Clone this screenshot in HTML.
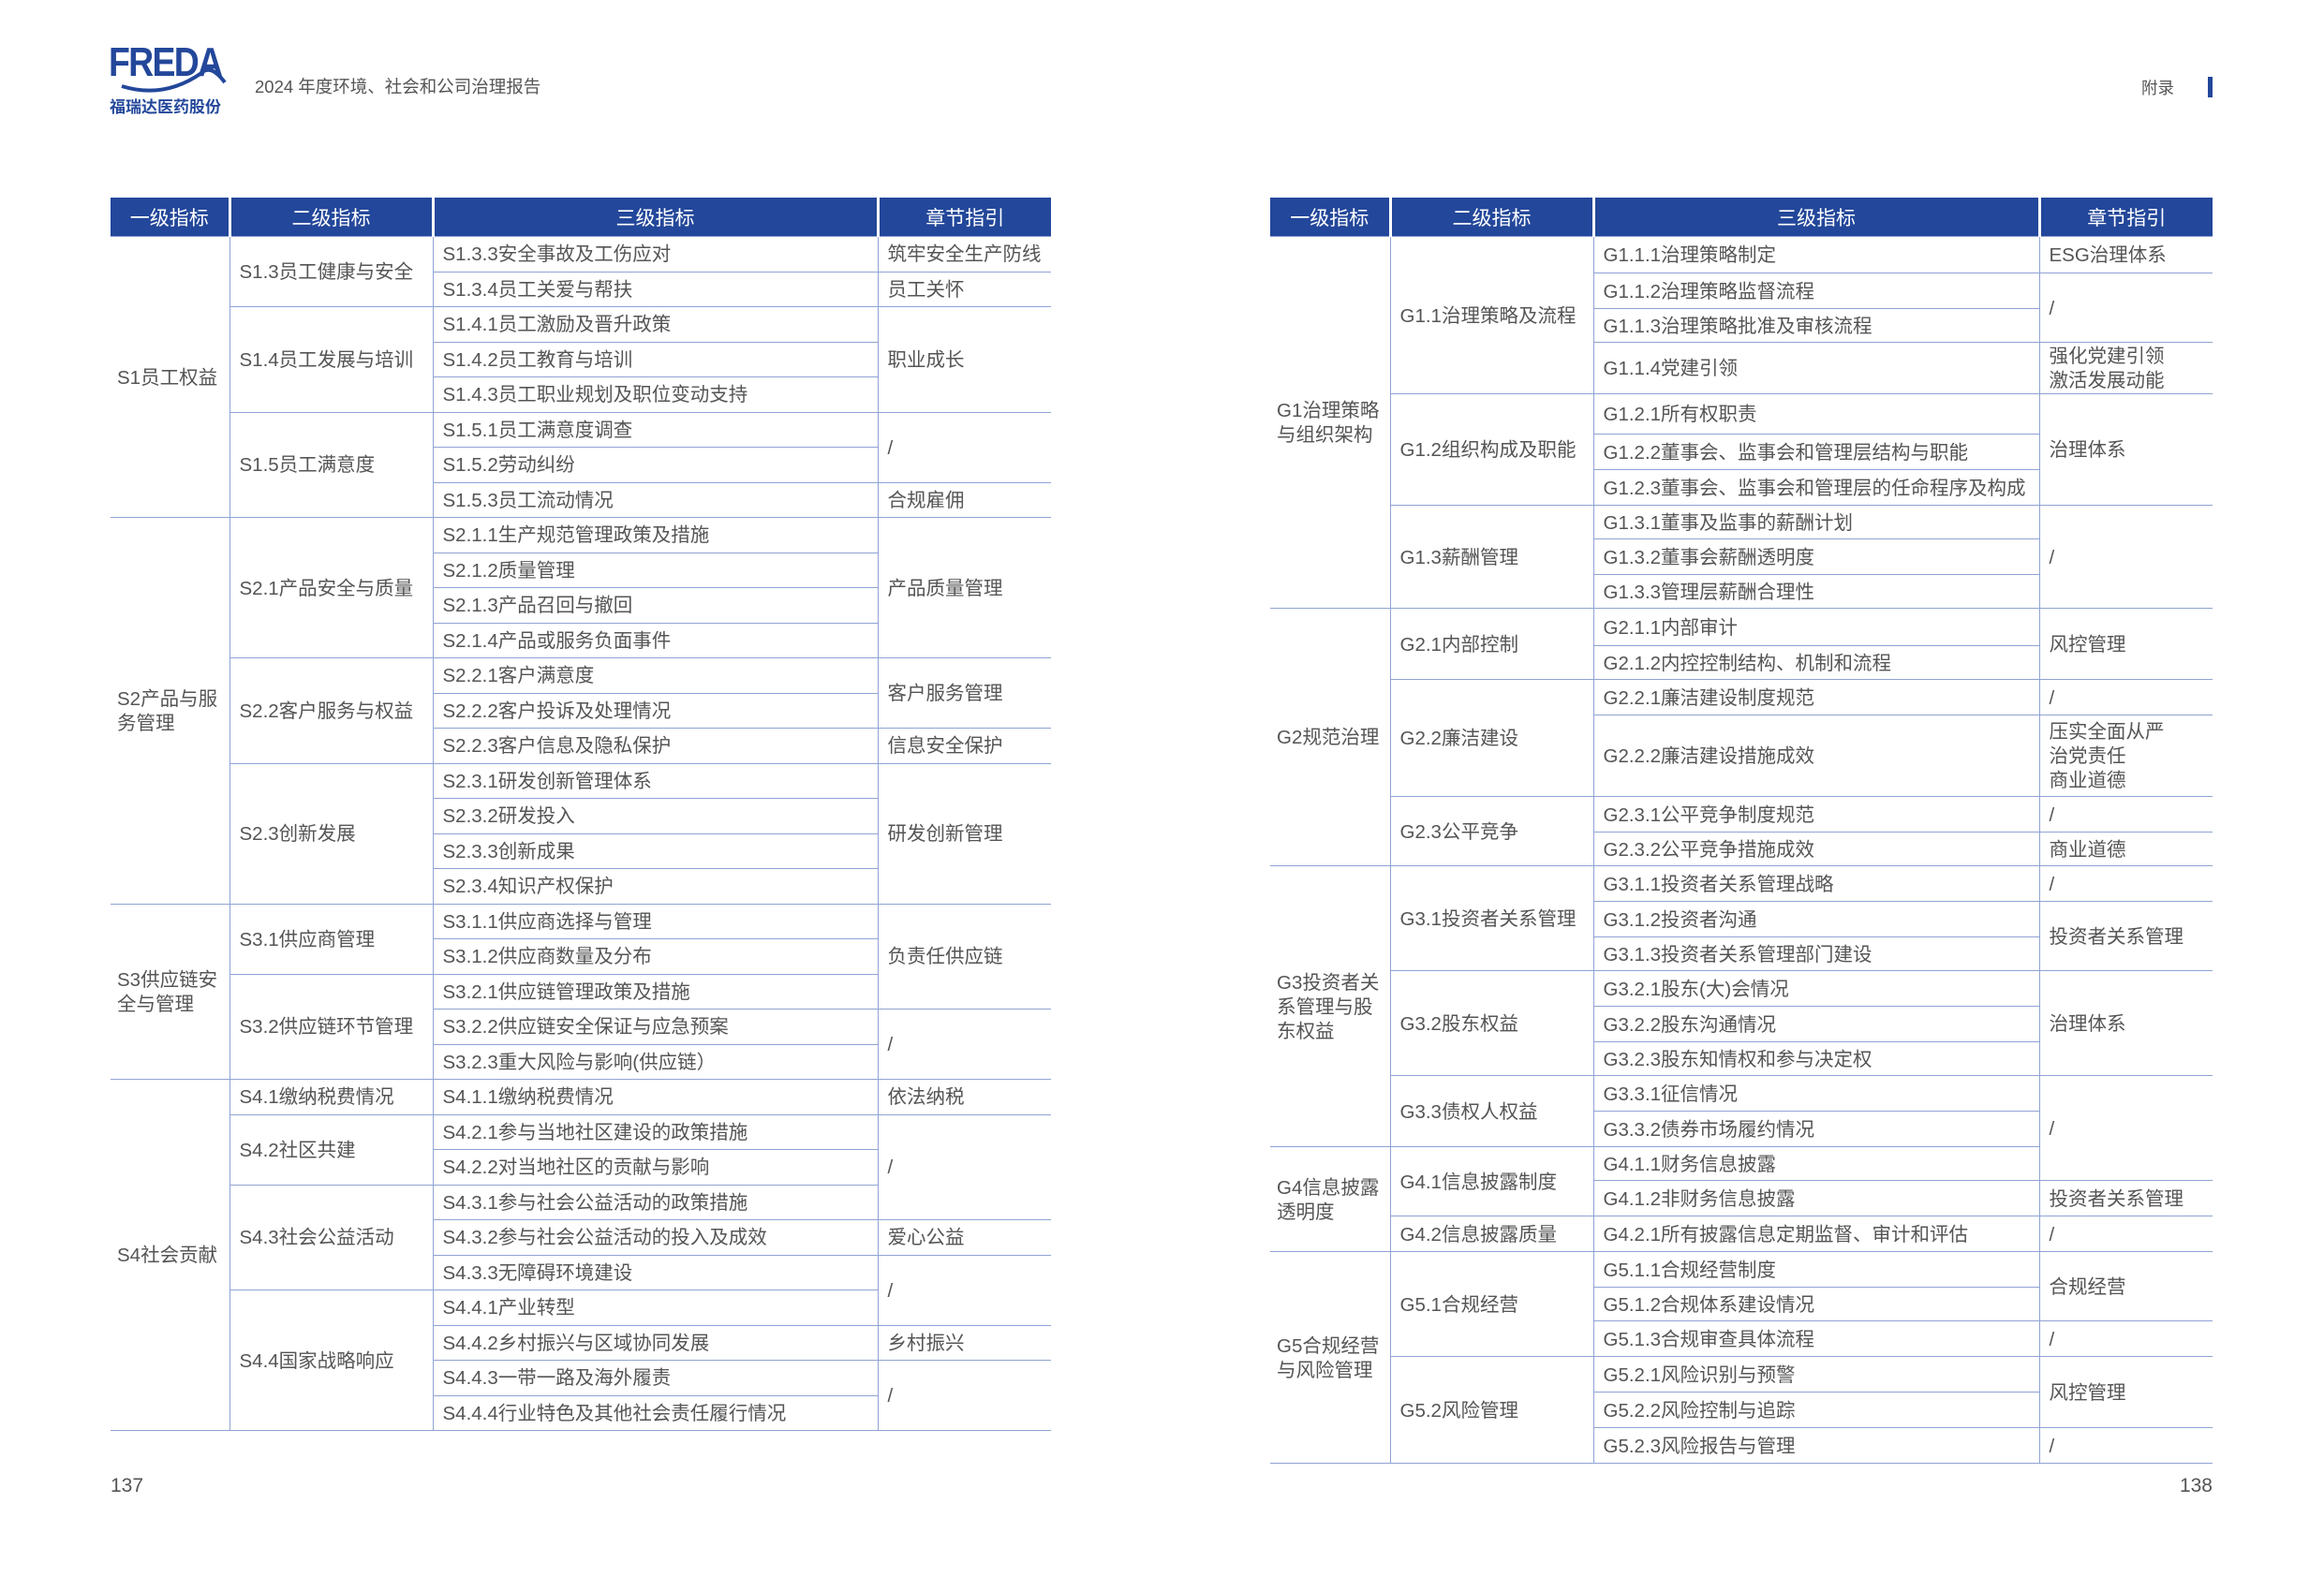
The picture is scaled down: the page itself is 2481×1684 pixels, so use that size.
<!DOCTYPE html>
<html><head><meta charset="utf-8">
<style>
body{margin:0;width:2481px;height:1684px;background:#fff;position:relative;overflow:hidden;font-family:"Liberation Sans","Noto Sans CJK SC",sans-serif;color:#555;}
.abs{position:absolute;}
table{position:absolute;border-collapse:collapse;table-layout:fixed;font-size:20.5px;}
td{border:1px solid #8fa3d3;padding:2px 0 0 10px;vertical-align:middle;white-space:nowrap;line-height:26px;overflow:hidden;}
th{background:#23479a;color:#fff;font-weight:normal;font-size:21px;height:41px;padding:0;border-right:3px solid #fff;}
th:last-child{border-right:none;}
tr td:first-child.c1{border-left:none;padding-left:7px;}
td.l{border-right:none;}
.L tr.r td{height:34.5px;}
</style></head><body>
<div class="abs" style="left:116px;top:42px;color:#23479a;font-size:44px;font-weight:bold;letter-spacing:-2px;transform:scaleX(0.85);transform-origin:left;">FREDA</div>
<svg class="abs" style="left:115px;top:48px" width="130" height="55"><path d="M15 44 Q60 58 100 30 Q110 20 125 40" stroke="#23479a" stroke-width="4" fill="none"/></svg>
<div class="abs" style="left:117px;top:100px;color:#23479a;font-size:17px;font-weight:bold;">福瑞达医药股份</div>
<div class="abs" style="left:272px;top:79px;font-size:18.5px;color:#555;">2024 年度环境、社会和公司治理报告</div>
<div class="abs" style="left:2286px;top:81px;font-size:17.5px;color:#555;">附录</div>
<div class="abs" style="left:2357px;top:82px;width:5px;height:22px;background:#23479a;"></div>
<div class="abs" style="left:118px;top:1575px;font-size:21px;">137</div>
<div class="abs" style="left:2300px;width:62px;text-align:right;top:1575px;font-size:21px;">138</div>

<table class="L" style="left:118px;top:211px;width:1004px;">
<colgroup><col style="width:127px"><col style="width:217px"><col style="width:475px"><col style="width:185px"></colgroup>
<tr><th>一级指标</th><th>二级指标</th><th>三级指标</th><th>章节指引</th></tr>
<tr class="r"><td class="c1" rowspan="8">S1员工权益</td><td rowspan="2">S1.3员工健康与安全</td><td>S1.3.3安全事故及工伤应对</td><td class="l">筑牢安全生产防线</td></tr>
<tr class="r"><td>S1.3.4员工关爱与帮扶</td><td class="l">员工关怀</td></tr>
<tr class="r"><td rowspan="3">S1.4员工发展与培训</td><td>S1.4.1员工激励及晋升政策</td><td class="l" rowspan="3">职业成长</td></tr>
<tr class="r"><td>S1.4.2员工教育与培训</td></tr>
<tr class="r"><td>S1.4.3员工职业规划及职位变动支持</td></tr>
<tr class="r"><td rowspan="3">S1.5员工满意度</td><td>S1.5.1员工满意度调查</td><td class="l" rowspan="2">/</td></tr>
<tr class="r"><td>S1.5.2劳动纠纷</td></tr>
<tr class="r"><td>S1.5.3员工流动情况</td><td class="l">合规雇佣</td></tr>
<tr class="r"><td class="c1" rowspan="11">S2产品与服<br>务管理</td><td rowspan="4">S2.1产品安全与质量</td><td>S2.1.1生产规范管理政策及措施</td><td class="l" rowspan="4">产品质量管理</td></tr>
<tr class="r"><td>S2.1.2质量管理</td></tr>
<tr class="r"><td>S2.1.3产品召回与撤回</td></tr>
<tr class="r"><td>S2.1.4产品或服务负面事件</td></tr>
<tr class="r"><td rowspan="3">S2.2客户服务与权益</td><td>S2.2.1客户满意度</td><td class="l" rowspan="2">客户服务管理</td></tr>
<tr class="r"><td>S2.2.2客户投诉及处理情况</td></tr>
<tr class="r"><td>S2.2.3客户信息及隐私保护</td><td class="l">信息安全保护</td></tr>
<tr class="r"><td rowspan="4">S2.3创新发展</td><td>S2.3.1研发创新管理体系</td><td class="l" rowspan="4">研发创新管理</td></tr>
<tr class="r"><td>S2.3.2研发投入</td></tr>
<tr class="r"><td>S2.3.3创新成果</td></tr>
<tr class="r"><td>S2.3.4知识产权保护</td></tr>
<tr class="r"><td class="c1" rowspan="5">S3供应链安<br>全与管理</td><td rowspan="2">S3.1供应商管理</td><td>S3.1.1供应商选择与管理</td><td class="l" rowspan="3">负责任供应链</td></tr>
<tr class="r"><td>S3.1.2供应商数量及分布</td></tr>
<tr class="r"><td rowspan="3">S3.2供应链环节管理</td><td>S3.2.1供应链管理政策及措施</td></tr>
<tr class="r"><td>S3.2.2供应链安全保证与应急预案</td><td class="l" rowspan="2">/</td></tr>
<tr class="r"><td>S3.2.3重大风险与影响(供应链）</td></tr>
<tr class="r"><td class="c1" rowspan="10">S4社会贡献</td><td>S4.1缴纳税费情况</td><td>S4.1.1缴纳税费情况</td><td class="l">依法纳税</td></tr>
<tr class="r"><td rowspan="2">S4.2社区共建</td><td>S4.2.1参与当地社区建设的政策措施</td><td class="l" rowspan="3">/</td></tr>
<tr class="r"><td>S4.2.2对当地社区的贡献与影响</td></tr>
<tr class="r"><td rowspan="3">S4.3社会公益活动</td><td>S4.3.1参与社会公益活动的政策措施</td></tr>
<tr class="r"><td>S4.3.2参与社会公益活动的投入及成效</td><td class="l">爱心公益</td></tr>
<tr class="r"><td>S4.3.3无障碍环境建设</td><td class="l" rowspan="2">/</td></tr>
<tr class="r"><td rowspan="4">S4.4国家战略响应</td><td>S4.4.1产业转型</td></tr>
<tr class="r"><td>S4.4.2乡村振兴与区域协同发展</td><td class="l">乡村振兴</td></tr>
<tr class="r"><td>S4.4.3一带一路及海外履责</td><td class="l" rowspan="2">/</td></tr>
<tr class="r"><td>S4.4.4行业特色及其他社会责任履行情况</td></tr>
</table>

<table style="left:1356px;top:211px;width:1006px;">
<colgroup><col style="width:128px"><col style="width:217px"><col style="width:476px"><col style="width:185px"></colgroup>
<tr><th>一级指标</th><th>二级指标</th><th>三级指标</th><th>章节指引</th></tr>
<tr style="height:39px"><td class="c1" rowspan="10">G1治理策略<br>与组织架构</td><td rowspan="4">G1.1治理策略及流程</td><td>G1.1.1治理策略制定</td><td class="l">ESG治理体系</td></tr>
<tr style="height:38px"><td>G1.1.2治理策略监督流程</td><td class="l" rowspan="2">/</td></tr>
<tr style="height:36px"><td>G1.1.3治理策略批准及审核流程</td></tr>
<tr style="height:55px"><td>G1.1.4党建引领</td><td class="l">强化党建引领<br>激活发展动能</td></tr>
<tr style="height:43px"><td rowspan="3">G1.2组织构成及职能</td><td>G1.2.1所有权职责</td><td class="l" rowspan="3">治理体系</td></tr>
<tr style="height:38px"><td>G1.2.2董事会、监事会和管理层结构与职能</td></tr>
<tr style="height:38px"><td>G1.2.3董事会、监事会和管理层的任命程序及构成</td></tr>
<tr style="height:36px"><td rowspan="3">G1.3薪酬管理</td><td>G1.3.1董事及监事的薪酬计划</td><td class="l" rowspan="3">/</td></tr>
<tr style="height:38px"><td>G1.3.2董事会薪酬透明度</td></tr>
<tr style="height:36px"><td>G1.3.3管理层薪酬合理性</td></tr>
<tr style="height:40px"><td class="c1" rowspan="6">G2规范治理</td><td rowspan="2">G2.1内部控制</td><td>G2.1.1内部审计</td><td class="l" rowspan="2">风控管理</td></tr>
<tr style="height:36px"><td>G2.1.2内控控制结构、机制和流程</td></tr>
<tr style="height:38px"><td rowspan="2">G2.2廉洁建设</td><td>G2.2.1廉洁建设制度规范</td><td class="l">/</td></tr>
<tr style="height:87px"><td>G2.2.2廉洁建设措施成效</td><td class="l">压实全面从严<br>治党责任<br>商业道德</td></tr>
<tr style="height:38px"><td rowspan="2">G2.3公平竞争</td><td>G2.3.1公平竞争制度规范</td><td class="l">/</td></tr>
<tr style="height:36px"><td>G2.3.2公平竞争措施成效</td><td class="l">商业道德</td></tr>
<tr style="height:38px"><td class="c1" rowspan="8">G3投资者关<br>系管理与股<br>东权益</td><td rowspan="3">G3.1投资者关系管理</td><td>G3.1.1投资者关系管理战略</td><td class="l">/</td></tr>
<tr style="height:38px"><td>G3.1.2投资者沟通</td><td class="l" rowspan="2">投资者关系管理</td></tr>
<tr style="height:36px"><td>G3.1.3投资者关系管理部门建设</td></tr>
<tr style="height:38px"><td rowspan="3">G3.2股东权益</td><td>G3.2.1股东(大)会情况</td><td class="l" rowspan="3">治理体系</td></tr>
<tr style="height:38px"><td>G3.2.2股东沟通情况</td></tr>
<tr style="height:36px"><td>G3.2.3股东知情权和参与决定权</td></tr>
<tr style="height:38px"><td rowspan="2">G3.3债权人权益</td><td>G3.3.1征信情况</td><td class="l" rowspan="3">/</td></tr>
<tr style="height:38px"><td>G3.3.2债券市场履约情况</td></tr>
<tr style="height:36px"><td class="c1" rowspan="3">G4信息披露<br>透明度</td><td rowspan="2">G4.1信息披露制度</td><td>G4.1.1财务信息披露</td></tr>
<tr style="height:38px"><td>G4.1.2非财务信息披露</td><td class="l">投资者关系管理</td></tr>
<tr style="height:38px"><td>G4.2信息披露质量</td><td>G4.2.1所有披露信息定期监督、审计和评估</td><td class="l">/</td></tr>
<tr style="height:38px"><td class="c1" rowspan="6">G5合规经营<br>与风险管理</td><td rowspan="3">G5.1合规经营</td><td>G5.1.1合规经营制度</td><td class="l" rowspan="2">合规经营</td></tr>
<tr style="height:36px"><td>G5.1.2合规体系建设情况</td></tr>
<tr style="height:38px"><td>G5.1.3合规审查具体流程</td><td class="l">/</td></tr>
<tr style="height:38px"><td rowspan="3">G5.2风险管理</td><td>G5.2.1风险识别与预警</td><td class="l" rowspan="2">风控管理</td></tr>
<tr style="height:38px"><td>G5.2.2风险控制与追踪</td></tr>
<tr style="height:38px"><td>G5.2.3风险报告与管理</td><td class="l">/</td></tr>
</table>
</body></html>
